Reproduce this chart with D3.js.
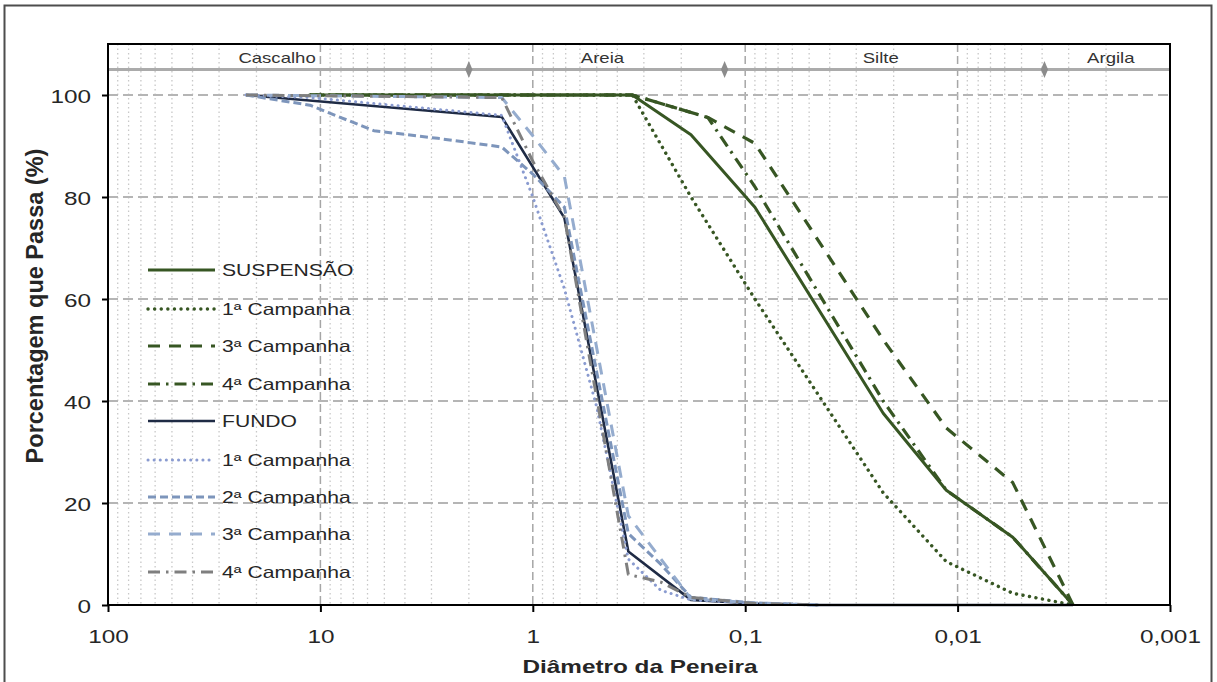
<!DOCTYPE html>
<html><head><meta charset="utf-8">
<script src="https://cdn.jsdelivr.net/npm/d3@7"></script>
<style>body{margin:0;background:#fff;} text{font-family:"Liberation Sans", Arial, sans-serif;}</style>
</head><body>
<svg id="c" width="1217" height="682"></svg>
<script>
// ---------- data ----------
const xTicks = [100, 10, 1, 0.1, 0.01, 0.001];
const xTickLabels = ["100", "10", "1", "0,1", "0,01", "0,001"];
const yTicks = [0, 20, 40, 60, 80, 100];
const classBounds = [2, 0.125, 0.0039];
const classNames = ["Cascalho", "Areia", "Silte", "Argila"];
const classLabelPos = [16, 0.47, 0.023, 0.0019];
const classLevel = 105;

const suspName = "SUSPENSÃO";
const susp = [[11.2,100],[0.34,100],[0.18,92.2],[0.09,78],[0.0224,37.6],[0.0113,22.5],[0.0055,13.3],[0.00286,0]];
const susp1 = [[11.2,100],[0.34,100],[0.18,80],[0.09,60],[0.0224,22],[0.0113,8.5],[0.0055,2.3],[0.00286,0]];
const susp3 = [[11.2,100],[0.34,100],[0.15,95.6],[0.09,90.5],[0.0224,52],[0.0113,34.7],[0.0055,24],[0.00286,0]];
const susp4 = [[11.2,100],[0.34,100],[0.15,95.6],[0.09,82],[0.0224,40],[0.0113,22.5],[0.0055,13.3],[0.00286,0]];

const fundoName = "FUNDO";
const fundo = [[22.4,100],[1.4,95.7],[0.71,75.9],[0.355,10.5],[0.18,1],[0.09,0.3],[0.045,0],[0.00286,0]];
const fundo1 = [[22.4,100],[11.2,99.5],[1.4,96],[1.0,80],[0.71,62],[0.5,38.8],[0.355,9],[0.25,2.9],[0.18,1],[0.09,0.3],[0.045,0]];
const fundo2 = [[22.4,100],[11.2,98],[5.6,93],[2.8,91.5],[1.4,89.8],[1.0,84.5],[0.71,78],[0.355,14],[0.25,8],[0.18,1.5],[0.09,0.4],[0.045,0]];
const fundo3 = [[22.4,100],[1.4,99.5],[1.0,92],[0.71,84],[0.355,17.5],[0.18,1.2],[0.09,0.4],[0.045,0]];
const fundo4 = [[22.4,100],[1.4,99.5],[1.0,87],[0.71,76],[0.355,6],[0.25,4.5],[0.18,1.5],[0.09,0.3],[0.045,0]];

const campLabels = ["1ª Campanha","2ª Campanha","3ª Campanha","4ª Campanha"];

// ---------- chart ----------
const svg = d3.select("#c");
const L = 108, R = 1170, T = 44, B = 605;
const x = d3.scaleLog().domain([100, 0.001]).range([L, R]);
const y = d3.scaleLinear().domain([0, 110]).range([B, T]);
const SX = 1.28; // horizontal stretch of text in the reference

function stext(g, tx, ty, str, opts) {
  const gg = g.append("g").attr("transform", `translate(${tx},${ty}) scale(${opts.sx||SX},1)`);
  return gg.append("text").attr("text-anchor", opts.anchor || "start")
    .attr("font-size", opts.size).attr("font-weight", opts.weight || "normal")
    .attr("fill", opts.fill || "#262626").text(str);
}

// outer frame
svg.append("rect").attr("x", 4.5).attr("y", 5.5).attr("width", 1207).attr("height", 700)
  .attr("fill", "none").attr("stroke", "#4d4d4d").attr("stroke-width", 2);

// minor vertical gridlines
const minor = [];
for (let e = -3; e < 2; e++) for (let m = 2; m < 10; m++) minor.push(m * Math.pow(10, e));
const grid = svg.append("g");
grid.selectAll(".mv").data(minor).join("line")
  .attr("x1", d => x(d)).attr("x2", d => x(d)).attr("y1", T).attr("y2", B)
  .attr("stroke", "#c8c8c8").attr("stroke-width", 1.3).attr("stroke-dasharray", "1.5,3");
grid.selectAll(".Mv").data(xTicks.slice(1, -1)).join("line")
  .attr("x1", d => x(d)).attr("x2", d => x(d)).attr("y1", T).attr("y2", B)
  .attr("stroke", "#a6a6a6").attr("stroke-width", 1.5).attr("stroke-dasharray", "8,4");
grid.selectAll(".Mh").data(yTicks.slice(1)).join("line")
  .attr("x1", L).attr("x2", R).attr("y1", d => y(d)).attr("y2", d => y(d))
  .attr("stroke", "#b5b5b5").attr("stroke-width", 2).attr("stroke-dasharray", "10,5");

// class band line
svg.append("line").attr("x1", L).attr("x2", R).attr("y1", y(classLevel)).attr("y2", y(classLevel))
  .attr("stroke", "#ababab").attr("stroke-width", 3);
svg.selectAll(".dia").data(classBounds).join("path")
  .attr("d", d3.symbol().type(d3.symbolDiamond).size(70))
  .attr("transform", d => `translate(${x(d)},${y(classLevel)}) scale(0.8,1.1)`)
  .attr("fill", "#8c8c8c");
const cl = svg.append("g");
classNames.forEach((n, i) => stext(cl, x(classLabelPos[i]), y(classLevel) - 7, n, {size: 14.5, anchor: "middle", fill: "#333"}));

// series
const line = d3.line().x(d => x(d[0])).y(d => y(d[1]));
const green = "#375623";
const series = [
  {name: suspName, data: susp, color: green, w: 3, dash: null},
  {name: campLabels[0], data: susp1, color: green, w: 3.4, dash: "0.1,6.5", cap: "round"},
  {name: campLabels[2], data: susp3, color: green, w: 3.2, dash: "12,9"},
  {name: campLabels[3], data: susp4, color: green, w: 3.2, dash: "12,6,2.5,6"},
  {name: fundoName, data: fundo, color: "#1f2b45", w: 2.6, dash: null},
  {name: campLabels[0], data: fundo1, color: "#8a9bd0", w: 3, dash: "0.1,6", cap: "round"},
  {name: campLabels[1], data: fundo2, color: "#7d95bb", w: 3, dash: "8,4"},
  {name: campLabels[2], data: fundo3, color: "#95acce", w: 3, dash: "12,9"},
  {name: campLabels[3], data: fundo4, color: "#7f7f7f", w: 3, dash: "12,6,2.5,6"}
];
const sg = svg.append("g");
series.forEach(s => {
  sg.append("path").datum(s.data).attr("d", line).attr("fill", "none")
    .attr("stroke", s.color).attr("stroke-width", s.w)
    .attr("stroke-dasharray", s.dash).attr("stroke-linecap", s.cap || "butt")
    .attr("stroke-linejoin", "round");
});

// legend
const lg = svg.append("g");
const legY = [270, 309, 346, 384, 421, 460, 497, 534, 572];
series.forEach((s, i) => {
  lg.append("line").attr("x1", 148).attr("x2", 215).attr("y1", legY[i]).attr("y2", legY[i])
    .attr("stroke", s.color).attr("stroke-width", s.w).attr("stroke-dasharray", s.dash)
    .attr("stroke-linecap", s.cap || "butt");
  stext(lg, 222, legY[i] + 6, s.name, {size: 16.5});
});

// axes
const xa = svg.append("g").attr("transform", `translate(0,${B})`)
  .call(d3.axisBottom(x).tickValues(xTicks).tickFormat((d, i) => xTickLabels[i]).tickSize(7).tickSizeOuter(0));
xa.select(".domain").remove();
xa.selectAll("line").attr("stroke", "#000").attr("stroke-width", 2);
xa.selectAll("text").remove();
xa.selectAll(".tick").each(function(d, i) {
  stext(d3.select(this), 0, 38, xTickLabels[i], {size: 19, anchor: "middle", fill: "#262626"});
});

const ya = svg.append("g").attr("transform", `translate(${L},0)`)
  .call(d3.axisLeft(y).tickValues(yTicks).tickSize(6).tickSizeOuter(0));
ya.select(".domain").remove();
ya.selectAll("line").attr("stroke", "#000").attr("stroke-width", 2);
ya.selectAll("text").remove();
ya.selectAll(".tick").each(function(d) {
  stext(d3.select(this), -17, 7, String(d), {size: 19, anchor: "end", fill: "#262626"});
});

// plot frame
svg.append("rect").attr("x", L).attr("y", T).attr("width", R - L).attr("height", B - T)
  .attr("fill", "none").attr("stroke", "#000").attr("stroke-width", 2);

// titles
stext(svg, 640, 673, "Diâmetro da Peneira", {size: 19, weight: "bold", anchor: "middle", fill: "#262626"});
svg.append("text").attr("transform", "translate(43,306) rotate(-90)")
  .attr("text-anchor", "middle").attr("font-size", 23.5).attr("font-weight", "bold")
  .attr("fill", "#262626").text("Porcentagem que Passa (%)");
</script>
</body></html>
